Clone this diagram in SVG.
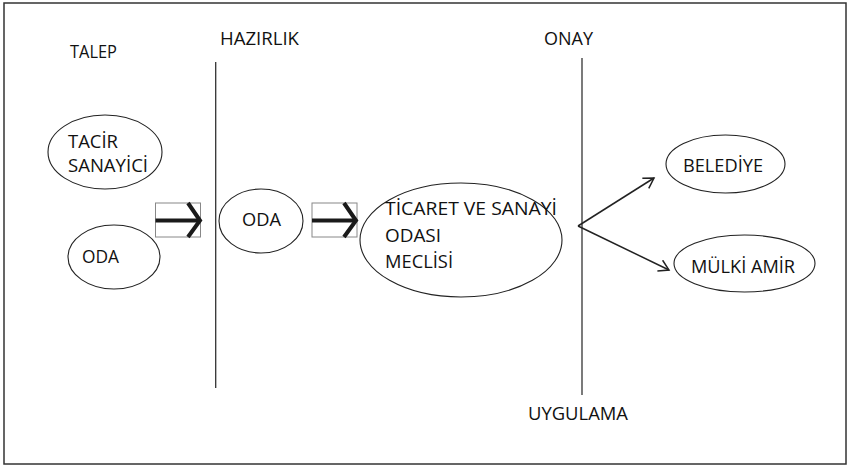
<svg xmlns="http://www.w3.org/2000/svg" width="849" height="466" viewBox="0 0 849 466">
<style>
.t{font-family:"Open Sans","DejaVu Sans",sans-serif;font-size:18px;fill:#111}
.n{fill:#fff;stroke:#222;stroke-width:1.1}
.v{stroke:#333;stroke-width:1.3;fill:none}
.box{fill:#fff;stroke:#888;stroke-width:1}
.thick{stroke:#1a1a1a;stroke-width:4;fill:none}
.ln{stroke:#222;stroke-width:1.5;fill:none}
</style>
<defs>
<marker id="ah" markerWidth="14" markerHeight="14" refX="11" refY="7" orient="auto" markerUnits="userSpaceOnUse">
<path d="M1,1 L11,7 L1,13" fill="none" stroke="#222" stroke-width="1.5"/>
</marker>
</defs>
<rect x="4" y="3" width="842" height="461" fill="#fff" stroke="#333" stroke-width="1.5"/>
<g id="labels">
<text class="t" x="70" y="58" textLength="47" lengthAdjust="spacingAndGlyphs">TALEP</text>
<text class="t" x="220" y="45" textLength="79" lengthAdjust="spacingAndGlyphs">HAZIRLIK</text>
<text class="t" x="544" y="45" textLength="49" lengthAdjust="spacingAndGlyphs">ONAY</text>
<text class="t" x="528" y="420" textLength="100" lengthAdjust="spacingAndGlyphs">UYGULAMA</text>
</g>
<g id="dividers">
<line class="v" x1="215.7" y1="62" x2="215.7" y2="388"/>
<line class="v" x1="582" y1="58" x2="582" y2="395"/>
</g>
<g id="connectors">
<g id="arrow1">
<rect class="box" x="155.5" y="203" width="45" height="34"/>
<line class="thick" x1="155.5" y1="220.5" x2="199" y2="220.5"/>
<polyline class="thick" points="188,203 200,220.5 188,237"/>
</g>
<g id="arrow2">
<rect class="box" x="312" y="203" width="45" height="34"/>
<line class="thick" x1="312" y1="220.5" x2="355.5" y2="220.5"/>
<polyline class="thick" points="344,203 356,220.5 344,237"/>
</g>
<line class="ln" x1="578" y1="226" x2="654" y2="178" marker-end="url(#ah)"/>
<line class="ln" x1="578" y1="226" x2="669" y2="270" marker-end="url(#ah)"/>
</g>
<g id="tacir">
<ellipse class="n" cx="105" cy="152" rx="57" ry="37"/>
<text class="t" x="68" y="148" textLength="50" lengthAdjust="spacingAndGlyphs">TACİR</text>
<text class="t" x="68" y="172" textLength="80" lengthAdjust="spacingAndGlyphs">SANAYİCİ</text>
</g>
<g id="oda1">
<ellipse class="n" cx="114" cy="257" rx="46" ry="32"/>
<text class="t" x="82" y="263" textLength="37" lengthAdjust="spacingAndGlyphs">ODA</text>
</g>
<g id="oda2">
<ellipse class="n" cx="261" cy="221" rx="42" ry="32"/>
<text class="t" x="242" y="226" textLength="39" lengthAdjust="spacingAndGlyphs">ODA</text>
</g>
<g id="tso">
<ellipse class="n" cx="461" cy="240" rx="101" ry="57"/>
<text class="t" x="385" y="215" textLength="172" lengthAdjust="spacingAndGlyphs">TİCARET VE SANAYİ</text>
<text class="t" x="385" y="242" textLength="56" lengthAdjust="spacingAndGlyphs">ODASI</text>
<text class="t" x="385" y="268" textLength="68" lengthAdjust="spacingAndGlyphs">MECLİSİ</text>
</g>
<g id="belediye">
<ellipse class="n" cx="725.5" cy="164" rx="59.5" ry="29"/>
<text class="t" x="683" y="172" textLength="80" lengthAdjust="spacingAndGlyphs">BELEDİYE</text>
</g>
<g id="mulki">
<ellipse class="n" cx="744.5" cy="263.5" rx="70.5" ry="28.5"/>
<text class="t" x="691" y="273" textLength="104" lengthAdjust="spacingAndGlyphs">MÜLKİ AMİR</text>
</g>
</svg>
